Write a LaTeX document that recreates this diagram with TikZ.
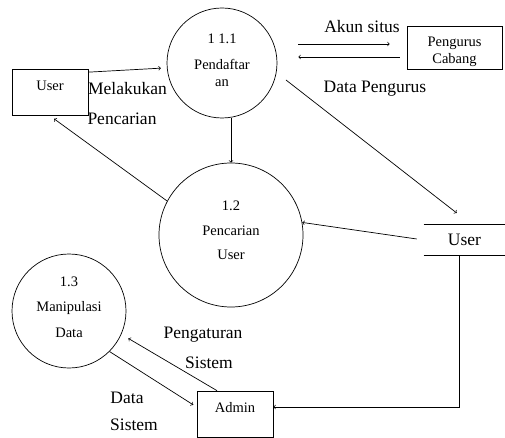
\documentclass[tikz,border=0pt]{standalone}
\usepackage{fontspec}
\setmainfont{Liberation Serif}
\usetikzlibrary{positioning}

\newcommand{\smalltxt}{\fontsize{14.5}{17}\selectfont}
\newcommand{\bigtxt}{\fontsize{17.5}{20}\selectfont}

\begin{document}
\begin{tikzpicture}[x=1pt,y=-1pt,->,line width=0.7pt]
	\tikzstyle{proc}=[draw,circle,align=center,inner sep=0pt,font=\smalltxt]
	\tikzstyle{entity}=[draw,rectangle,minimum width=76pt,minimum height=46pt,text height=10pt,text depth=14pt,inner sep=0pt,font=\smalltxt]
	\tikzstyle{store}=[minimum width=81pt,minimum height=30pt,inner sep=0pt,font=\bigtxt]
	\tikzstyle{flow}=[font=\bigtxt,inner sep=0pt]

	\useasboundingbox (0,0) rectangle (505,438);

	\node[proc,minimum size=110pt] (P1) at (222,63) {1 1.1\\[9pt]Pendaftar\\an\rule[-5pt]{0pt}{5pt}};
	\node[proc,minimum size=144pt] (P2) at (231,235) {1.2\\[8pt]Pencarian\\[7pt]User\rule[-9pt]{0pt}{9pt}};
	\node[proc,minimum size=114pt] (P3) at (69,311) {1.3\\[8pt]Manipulasi\\[9pt]Data\rule[-7pt]{0pt}{7pt}};
	\node[entity] (U1) at (50,92.5) {User};
	\node[entity] (AD) at (235,414) {Admin};
	\node[draw,rectangle,minimum width=95pt,minimum height=43pt,inner sep=0pt,align=center,font=\smalltxt] (PC) at (454.5,47.5) {\rule{0pt}{18pt}Pengurus\\Cabang};
	\node[store] (ST) at (464.5,240) {User};
	\draw[-] (ST.north west) -- (ST.north east);
	\draw[-] (ST.south west) -- (ST.south east);

	\node[flow] (l1) at (127.5,89) {Melakukan};
	\node[flow] (l2) at (122,119) {Pencarian};
	\node[flow] (l3) at (362,27) {Akun situs};
	\node[flow] (l4) at (375,89) {Data Pengurus};
	\node[flow] (l5) at (203,335) {Pengaturan};
	\node[flow] (l6) at (209,363) {Sistem};
	\node[flow] (l7) at (127,398) {Data};
	\node[flow] (l8) at (134,425) {Sistem};

	\draw[shorten >=6pt] ([yshift=-3pt]U1.north east) -- (P1.185);
	\draw (P1.south -| P2.north) -- (P2.north);
	\draw[shorten >=5pt] (P2.152) -- (U1.south);
	\draw[shorten <=21pt,shorten >=17pt] ([yshift=19pt]P1.east) -- ([yshift=19pt]P1.east -| PC.west);
	\draw[shorten <=7pt,shorten >=21pt] ([yshift=-9.5pt]PC.west) -- ([yshift=-9.5pt]PC.west -| P1.east);
	\draw[shorten <=12pt,shorten >=1pt] (P1.-10) -- ([xshift=-7pt,yshift=11pt]ST.north);
	\draw[shorten <=7pt] (ST.west) -- (P2.10);
	\draw ([xshift=-5.5pt]ST.south) |- ([yshift=7pt]AD.east);
	\draw[shorten >=8pt] ([xshift=-18pt]AD.north) -- (P3.-24);
	\draw[shorten >=4pt] (P3.-45) -- ([yshift=7pt]AD.west);
\end{tikzpicture}
\end{document}
